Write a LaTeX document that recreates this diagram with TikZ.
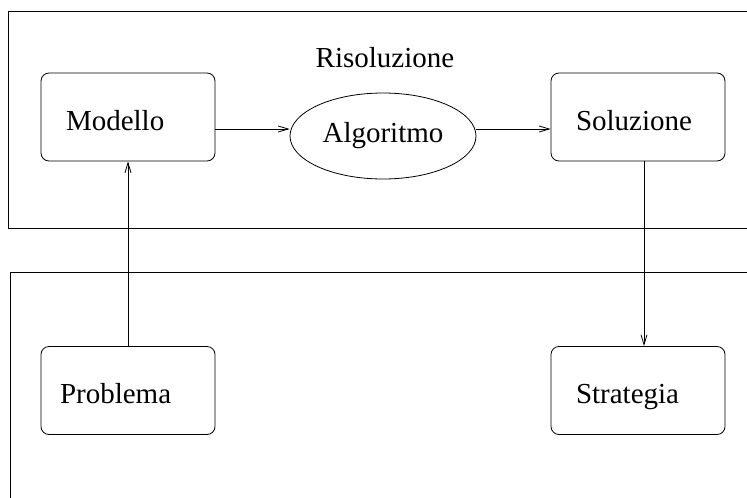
\documentclass[tikz,border=0pt]{standalone}
\usepackage{fontspec}
\setmainfont{Liberation Serif}
\usetikzlibrary{arrows.meta,shapes.geometric}
\begin{document}
\begin{tikzpicture}[x=1pt,y=-1pt,line width=0.8pt,
  font=\fontsize{29}{34}\selectfont,
  boxnode/.style={draw,rounded corners=8pt,minimum width=174pt,minimum height=88pt,
    text width=124pt,align=left,inner xsep=25pt,inner ysep=0pt,text height=26pt,text depth=0pt},
  ellnode/.style={draw,ellipse,minimum width=186pt,minimum height=86pt,inner sep=0pt,
    text height=12pt,text depth=0pt},
  arr/.style={-{Straight Barb[length=10pt,width=6pt,line width=0.8pt]}}]
\useasboundingbox (0,0) rectangle (747,498);
% frames
\draw (747,11) -- (8,11) -- (8,228) -- (747,228);
\draw (747,272) -- (10,272) -- (10,498);
% nodes
\node[boxnode] (Modello) at (128,117) {Modello};
\node[boxnode] (Soluzione) at (638,117) {Soluzione};
\node[boxnode] (Problema) at (128,390.5) {\hspace*{-6pt}Problema};
\node[boxnode] (Strategia) at (638,390.5) {Strategia};
\node[ellnode] (Algoritmo) at (383,136) {Algoritmo};
\node[anchor=base] (Ris) at (385,67) {Risoluzione};
% connectors
\draw[arr] ([yshift=-12pt]Modello.east) -- ([yshift=-12pt]Modello.east -| Algoritmo.west);
\draw[arr] ([yshift=-12pt]Soluzione.west -| Algoritmo.east) -- ([yshift=-12pt]Soluzione.west);
\draw[arr] (Problema.north) -- (Modello.south);
\draw[arr] ([xshift=6pt]Soluzione.south) -- ([xshift=6pt]Strategia.north);
\end{tikzpicture}
\end{document}
